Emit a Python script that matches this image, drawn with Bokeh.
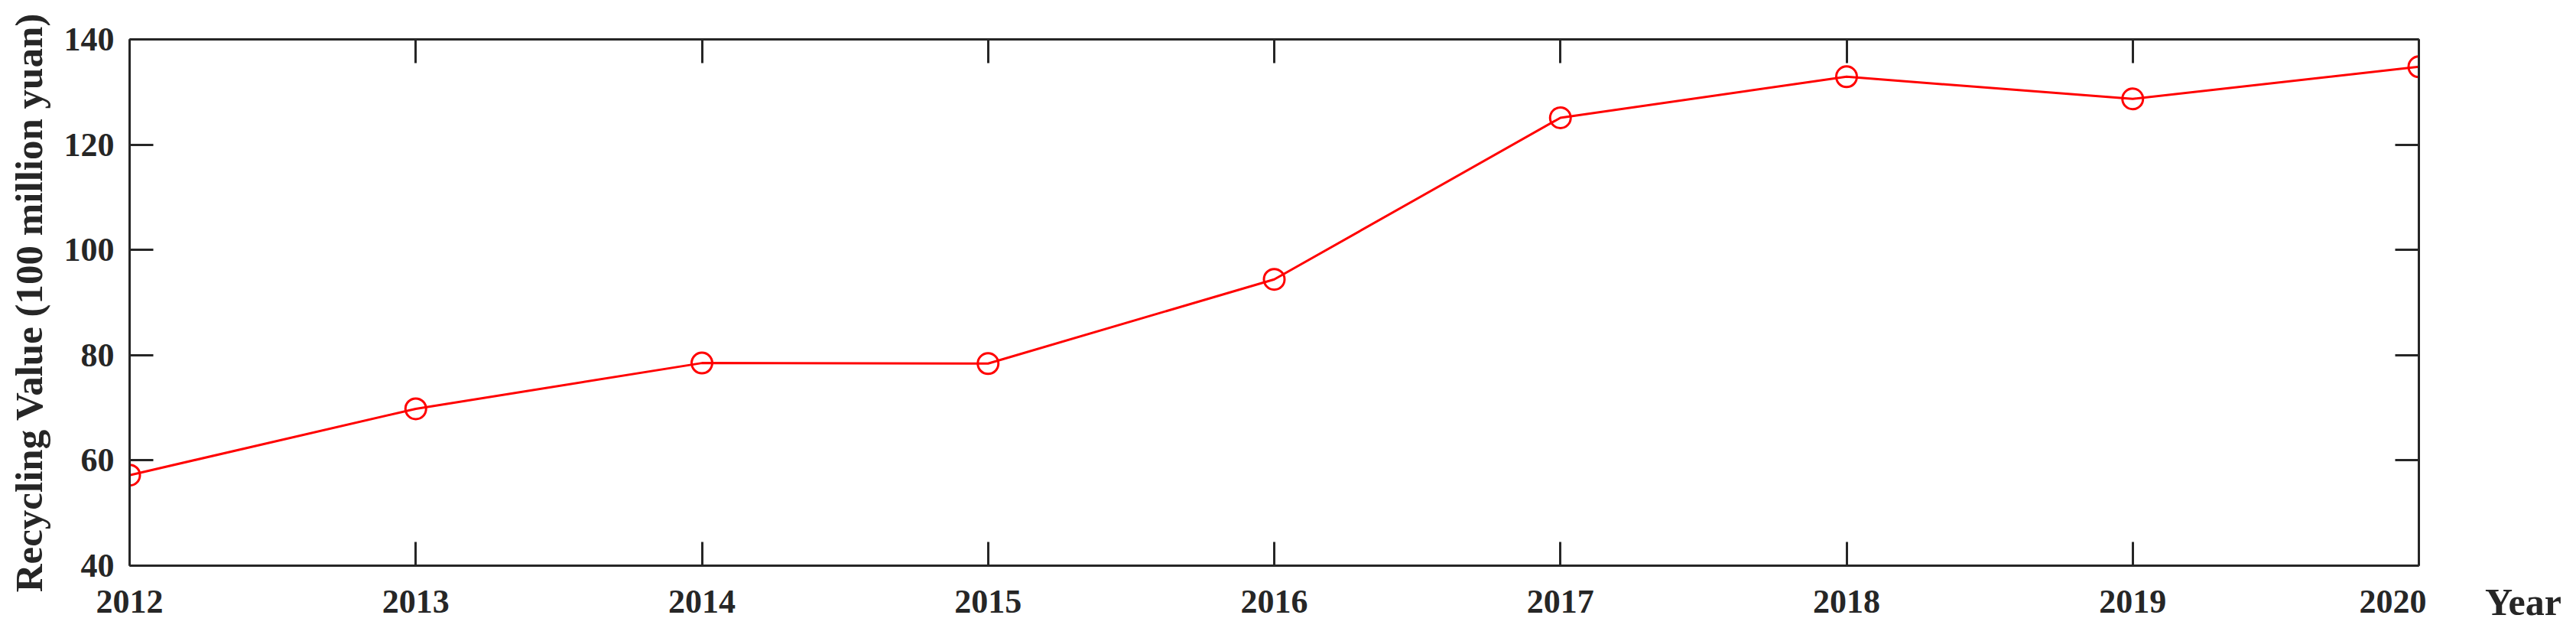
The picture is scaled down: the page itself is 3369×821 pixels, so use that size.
from bokeh.plotting import figure
from bokeh.models import LinearAxis, FixedTicker, Range1d, Div
from bokeh.layouts import row
from bokeh.embed import file_html
from bokeh.resources import INLINE

years = [2012, 2013, 2014, 2015, 2016, 2017, 2018, 2019, 2020]
values = [57.2, 69.8, 78.5, 78.4, 94.4, 125.1, 132.9, 128.7, 134.8]
y_ticks = [40, 60, 80, 100, 120, 140]
y_title = "Recycling Value (100 million yuan)"
x_title = "Year"

FONT = "Liberation Serif"
AX = "#262626"

p = figure(width=3173, height=821, output_backend="svg", toolbar_location=None,
           x_range=Range1d(2012, 2020), y_range=Range1d(40, 140),
           min_border_left=169, min_border_right=10, min_border_top=51, min_border_bottom=82,
           x_axis_location=None, y_axis_location=None)
p.xgrid.visible = False
p.ygrid.visible = False
p.outline_line_color = None
p.background_fill_color = "white"
p.border_fill_color = "white"

def style(ax, labels=True):
    ax.axis_line_color = AX
    ax.axis_line_width = 3
    ax.major_tick_line_color = AX
    ax.major_tick_line_width = 3
    ax.major_tick_in = 31
    ax.major_tick_out = 0
    ax.minor_tick_line_color = None
    ax.major_label_text_font = FONT
    ax.major_label_text_font_style = "bold"
    ax.major_label_text_color = AX
    ax.major_label_text_font_size = "44px" if labels else "0px"
    if not labels:
        ax.major_label_text_alpha = 0
    ax.axis_label_text_font = FONT
    ax.axis_label_text_font_style = "bold"
    ax.axis_label_text_color = AX
    ax.axis_label_text_font_size = "51px"

xb = LinearAxis(ticker=FixedTicker(ticks=years))
style(xb)
xb.major_label_standoff = 32
p.add_layout(xb, "below")

yl = LinearAxis(ticker=FixedTicker(ticks=y_ticks), axis_label=y_title)
style(yl)
yl.major_label_standoff = 20
yl.axis_label_standoff = 15
p.add_layout(yl, "left")

xa = LinearAxis(ticker=FixedTicker(ticks=years))
style(xa, labels=False)
p.add_layout(xa, "above")

yr = LinearAxis(ticker=FixedTicker(ticks=y_ticks))
style(yr, labels=False)
p.add_layout(yr, "right")

p.line(years, values, line_color="red", line_width=3)
p.scatter(years, values, marker="circle", size=27, fill_color=None,
          line_color="red", line_width=3)

# x-axis title placed to the right of the frame, level with the tick labels
year_div = Div(
    text=(f'<div style="padding-top:757px;padding-left:72px;margin:0;'
          f'font-family:\'{FONT}\';font-weight:bold;font-size:50px;line-height:50px;'
          f'color:{AX};white-space:nowrap">{x_title}</div>'),
    width=188, height=821)

layout = row(p, year_div)
open("out.html", "w").write(file_html(layout, INLINE))
